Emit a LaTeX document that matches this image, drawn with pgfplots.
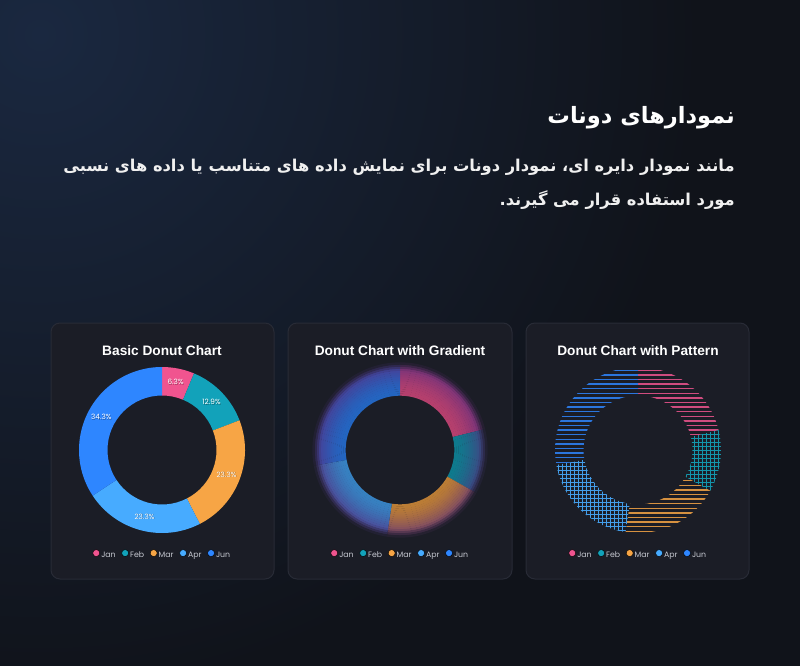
\documentclass[border=0pt]{standalone}
\usepackage{pgfplots}
\pgfplotsset{compat=1.18}
\usepackage{pgfplotstable}
\usepackage{fontspec}
\setmainfont{Liberation Sans}
\newfontfamily\poppins{Poppins}
\newfontfamily\arabicfont[Script=Arabic]{DejaVu Sans}
\TeXXeTstate=1

\definecolor{bgc}{HTML}{10131A}
\definecolor{glow}{HTML}{1A2840}
\definecolor{cardbg}{HTML}{1B1D26}
\definecolor{cardline}{HTML}{282B36}
\definecolor{janc}{HTML}{F0548F}
\definecolor{febc}{HTML}{12A2BA}
\definecolor{marc}{HTML}{F7A545}
\definecolor{aprc}{HTML}{47ABFF}
\definecolor{junc}{HTML}{2E86FF}
\definecolor{purp}{HTML}{582C80}
\definecolor{legtext}{HTML}{C5C8D0}

% basic chart, values as shown in its labels
\pgfplotstableread{
month value col
Jan 6.3 janc
Feb 12.9 febc
Mar 23.3 marc
Apr 23.3 aprc
Jun 34.3 junc
}\basicdata

% gradient and pattern charts
\pgfplotstableread{
month value col pat
Jan 44 janc hlines
Feb 25 febc hatchgrid
Mar 40 marc hlines
Apr 41 aprc hatchgrid
Jun 58 junc hlines
}\shareddata

% fill patterns drawn as lines clipped to the slice (origin = donut centre)
\tikzset{
  hlines/.style={path picture={%
    \foreach \yy in {-20,...,20}{%
      \pgfmathsetmacro\yv{\yy*4.6+1.5}%
      \draw[#1!85!cardbg, line width=1.25pt] (canvas cs:x=-95pt,y=\yv pt) -- (canvas cs:x=95pt,y=\yv pt);}}},
  hatchgrid/.style={path picture={%
    \foreach \yy in {-24,...,24}{%
      \pgfmathsetmacro\yv{\yy*4}%
      \draw[#1!90!cardbg, line width=0.85pt] (canvas cs:x=-95pt,y=\yv pt) -- (canvas cs:x=95pt,y=\yv pt);
      \draw[#1!90!cardbg, line width=0.85pt] (canvas cs:x=\yv pt,y=-95pt) -- (canvas cs:x=\yv pt,y=95pt);}}},
}

\pgfplotsset{
  donut/.style={
    hide axis, x=1pt, y=1pt,
    xmin=-90, xmax=90, ymin=-90, ymax=90,
    anchor=center, clip=false,
    legend columns=5,
    legend image code/.code={\fill[##1] (0pt,2.6pt) circle (3.5pt);},
    legend style={at={(0.5,-0.0833)}, anchor=center, draw=none, fill=none,
      text=legtext, font=\poppins\fontsize{7.8}{9}\selectfont,
      inner sep=0pt, nodes={inner sep=1.3pt},
      /tikz/every even column/.append style={column sep=4.5pt}},
  },
}

% loop over the rows of a table, giving start/end/mid angle of each slice
\newcommand\forslices[2]{%
  \pgfplotstablegetrowsof{#1}%
  \pgfmathtruncatemacro\lastrow{\pgfplotsretval-1}%
  \def\total{0}%
  \pgfplotsforeachungrouped \i in {0,...,\lastrow}{%
    \pgfplotstablegetelem{\i}{value}\of#1%
    \pgfmathsetmacro\total{\total+\pgfplotsretval}}%
  \def\cum{0}%
  \pgfplotsforeachungrouped \i in {0,...,\lastrow}{%
    \pgfplotstablegetelem{\i}{value}\of#1\let\val\pgfplotsretval
    \pgfplotstablegetelem{\i}{col}\of#1\let\col\pgfplotsretval
    \pgfmathsetmacro\aS{90-\cum/\total*360}%
    \pgfmathsetmacro\cum{\cum+\val}%
    \pgfmathsetmacro\aE{90-\cum/\total*360}%
    \pgfmathsetmacro\aM{(\aS+\aE)/2}%
    #2}%
}

\newcommand\legendentries{%
  \addlegendimage{fill=janc}\addlegendentry{Jan}
  \addlegendimage{fill=febc}\addlegendentry{Feb}
  \addlegendimage{fill=marc}\addlegendentry{Mar}
  \addlegendimage{fill=aprc}\addlegendentry{Apr}
  \addlegendimage{fill=junc}\addlegendentry{Jun}
}

\begin{document}
\begin{tikzpicture}[x=1pt,y=1pt]
% page background
\fill[bgc] (-3,-3) rectangle (803,668);
\begin{scope}
  \clip (-3,-3) rectangle (803,668);
  \shade[inner color=glow, outer color=bgc] (40,630) circle (660);
\end{scope}

% heading
\node[anchor=east, text=white, inner sep=0pt,
  font=\arabicfont\bfseries\fontsize{22.5}{27}\selectfont]
  at (735,547) {\beginR نمودارهای دونات\endR};
\node[anchor=east, text=white!94!black, inner sep=0pt,
  font=\arabicfont\bfseries\fontsize{16.3}{20}\selectfont]
  at (735,498) {\beginR مانند نمودار دایره ای، نمودار دونات برای نمایش داده های متناسب یا داده های نسبی\endR};
\node[anchor=east, text=white!94!black, inner sep=0pt,
  font=\arabicfont\bfseries\fontsize{16.3}{20}\selectfont]
  at (735,465) {\beginR مورد استفاده قرار می گیرند.\endR};

% cards
\foreach \xa/\xb in {51/274, 288/512, 526/749}
  \draw[cardline, fill=cardbg, line width=1pt, rounded corners=9pt]
    (\xa,86) rectangle (\xb,342);

\foreach \cx/\ttl in {162/Basic Donut Chart, 400/Donut Chart with Gradient, 638/Donut Chart with Pattern}
  \node[text=white, font=\bfseries\fontsize{13.7}{16}\selectfont] at (\cx,314) {\ttl};

% basic donut
\begin{axis}[donut, at={(162pt,215pt)}]
  \legendentries
  \forslices{\basicdata}{%
    \edef\temp{\noexpand\fill[\col, shift={(axis cs:0,0)}]
      (\aS:83pt) arc[start angle=\aS, end angle=\aE, radius=83pt]
      -- (\aE:54.5pt) arc[start angle=\aE, end angle=\aS, radius=54.5pt] -- cycle;
      \noexpand\node[text=black, opacity=0.35, font=\noexpand\poppins\noexpand\fontsize{7.3}{8}\noexpand\selectfont,
        shift={(axis cs:0.6,-0.6)}] at (\aM:69pt) {\val\noexpand\%};
      \noexpand\node[text=white, font=\noexpand\poppins\noexpand\fontsize{7.3}{8}\noexpand\selectfont,
        shift={(axis cs:0,0)}] at (\aM:69pt) {\val\noexpand\%};}%
    \temp}
\end{axis}

% gradient donut
\begin{axis}[donut, at={(400pt,215pt)}]
  \legendentries
  \forslices{\shareddata}{%
    \foreach \k in {0,...,15}{%
      \pgfmathsetmacro\ff{(\k+0.5)/16}%
      \pgfmathsetmacro\rr{54.5+\ff*33}%
      \pgfmathtruncatemacro\pw{100-88*\ff^1.6}%
      \pgfmathtruncatemacro\bw{\ff>0.76 ? 100-(\ff-0.76)/0.24*100 : 100}%
      \edef\temp{\noexpand\draw[color=\col!76!black!\pw!purp!\bw!cardbg,
        line width=2.4pt, shift={(axis cs:0,0)}]
        (\aS:\rr pt) arc[start angle=\aS, end angle=\aE, radius=\rr pt];}%
      \temp}}
\end{axis}

% pattern donut
\begin{axis}[donut, at={(638pt,215pt)}]
  \legendentries
  \forslices{\shareddata}{%
    \pgfplotstablegetelem{\i}{pat}\of\shareddata\let\pat\pgfplotsretval
    \edef\temp{\noexpand\path[\pat=\col, shift={(axis cs:0,0)}]
      (\aS:83pt) arc[start angle=\aS, end angle=\aE, radius=83pt]
      -- (\aE:54.5pt) arc[start angle=\aE, end angle=\aS, radius=54.5pt] -- cycle;}%
    \temp}
\end{axis}

\pgfresetboundingbox
\path[use as bounding box] (0,0) rectangle (800,665);
\end{tikzpicture}
\end{document}
